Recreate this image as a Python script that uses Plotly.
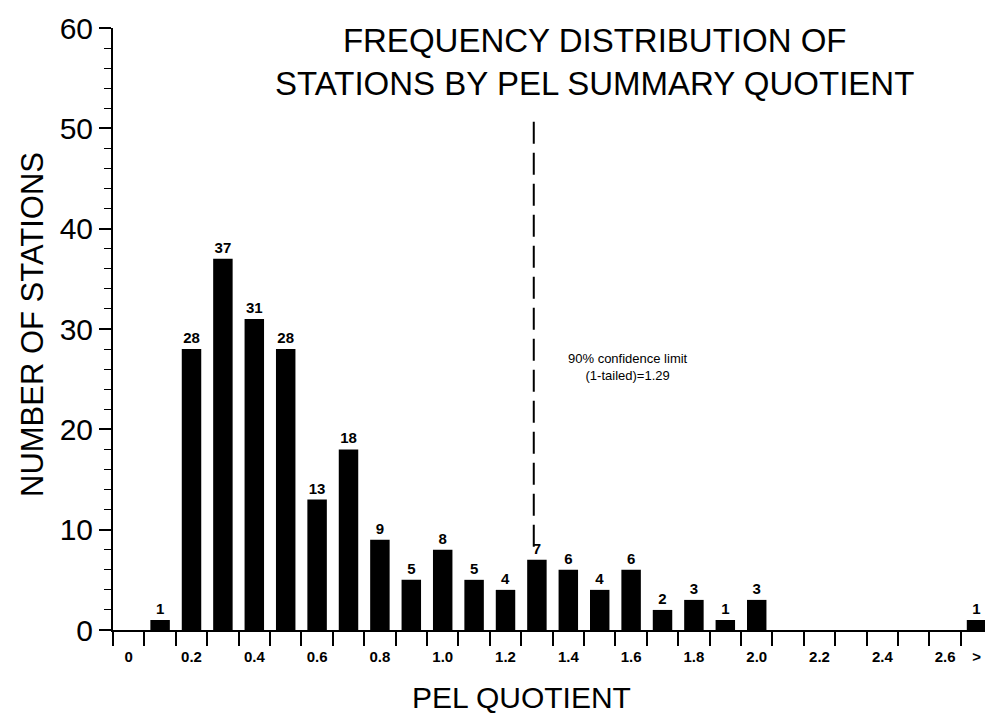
import plotly.graph_objects as go

# ---- data ----
bins = ["0", "0.1", "0.2", "0.3", "0.4", "0.5", "0.6", "0.7", "0.8", "0.9",
        "1.0", "1.1", "1.2", "1.3", "1.4", "1.5", "1.6", "1.7", "1.8", "1.9",
        "2.0", "2.1", "2.2", "2.3", "2.4", "2.5", "2.6", ">"]
counts = [0, 1, 28, 37, 31, 28, 13, 18, 9, 5,
          8, 5, 4, 7, 6, 4, 6, 2, 3, 1,
          3, 0, 0, 0, 0, 0, 0, 1]
tick_labels = ["0", "", "0.2", "", "0.4", "", "0.6", "", "0.8", "",
               "1.0", "", "1.2", "", "1.4", "", "1.6", "", "1.8", "",
               "2.0", "", "2.2", "", "2.4", "", "2.6", ">"]
y_ticks = [0, 10, 20, 30, 40, 50, 60]
confidence_limit = 1.29
bin_step = 0.1

FONT = "Liberation Sans, Arial, sans-serif"
L, T, W, H = 113, 28, 872, 602


def px_x(p):
    return (p - L) / W


def px_y(p):
    return 1 - (p - T) / H


bar_text = [str(c) if c else "" for c in counts]

fig = go.Figure()
fig.add_trace(go.Bar(
    x=bins, y=counts, width=0.62,
    marker=dict(color="black", line=dict(width=0)),
    text=bar_text, textposition="outside", cliponaxis=False,
    textfont=dict(family=FONT, size=15, color="black", weight="bold"),
))

limit_pos = confidence_limit / bin_step
fig.add_shape(type="line", xref="x", yref="y",
              x0=limit_pos, x1=limit_pos, y0=8.3, y1=51.5,
              line=dict(color="black", width=2, dash="22px,9px"))

fig.add_annotation(xref="paper", yref="paper", x=px_x(628), y=px_y(367),
                   text="90% confidence limit<br>(1-tailed)=1.29",
                   showarrow=False, align="center", xanchor="center", yanchor="middle",
                   font=dict(family=FONT, size=13, color="black"))

# title
fig.add_annotation(xref="paper", yref="paper", x=px_x(594), y=px_y(62),
                   xanchor="center", yanchor="middle",
                   text="FREQUENCY DISTRIBUTION OF<br>STATIONS BY PEL SUMMARY QUOTIENT",
                   showarrow=False, align="center",
                   font=dict(family=FONT, size=33, color="black"))
# axis titles
fig.add_annotation(xref="paper", yref="paper", x=px_x(32), y=px_y(325),
                   xanchor="center", yanchor="middle",
                   text="NUMBER OF STATIONS", textangle=-90, showarrow=False,
                   font=dict(family=FONT, size=31, color="black"))
fig.add_annotation(xref="paper", yref="paper", x=px_x(521), y=px_y(697),
                   xanchor="center", yanchor="middle",
                   text="PEL QUOTIENT", showarrow=False,
                   font=dict(family=FONT, size=30, color="black"))

fig.update_xaxes(
    type="category", categoryorder="array", categoryarray=bins,
    range=[-0.5, 27.27], automargin=False,
    tickmode="array", tickvals=bins, ticktext=tick_labels,
    tickson="boundaries", ticks="outside", ticklen=14, tickwidth=1.5,
    tickcolor="black", ticklabelstandoff=12,
    tickfont=dict(family=FONT, size=15, color="black", weight="bold"),
    showline=True, linecolor="black", linewidth=2,
    showgrid=False, zeroline=False, tickangle=0,
)
fig.update_yaxes(
    range=[0, 60], tickmode="array", tickvals=y_ticks, automargin=False,
    ticks="outside", ticklen=12, tickwidth=1.5, tickcolor="black",
    minor=dict(dtick=2, ticks="outside", ticklen=7, tickwidth=1, tickcolor="black"),
    tickfont=dict(family=FONT, size=30, color="black"),
    showline=True, linecolor="black", linewidth=2,
    showgrid=False, zeroline=False,
)
fig.update_layout(
    width=985, height=717,
    margin=dict(l=L, r=985 - L - W, t=T, b=717 - T - H, autoexpand=False),
    paper_bgcolor="white", plot_bgcolor="white",
    showlegend=False, bargap=0.4,
)
fig.write_html(
    "out.html",
    config={"displayModeBar": False},
    post_script="document.body.style.margin='0';document.body.style.overflow='hidden';",
)
